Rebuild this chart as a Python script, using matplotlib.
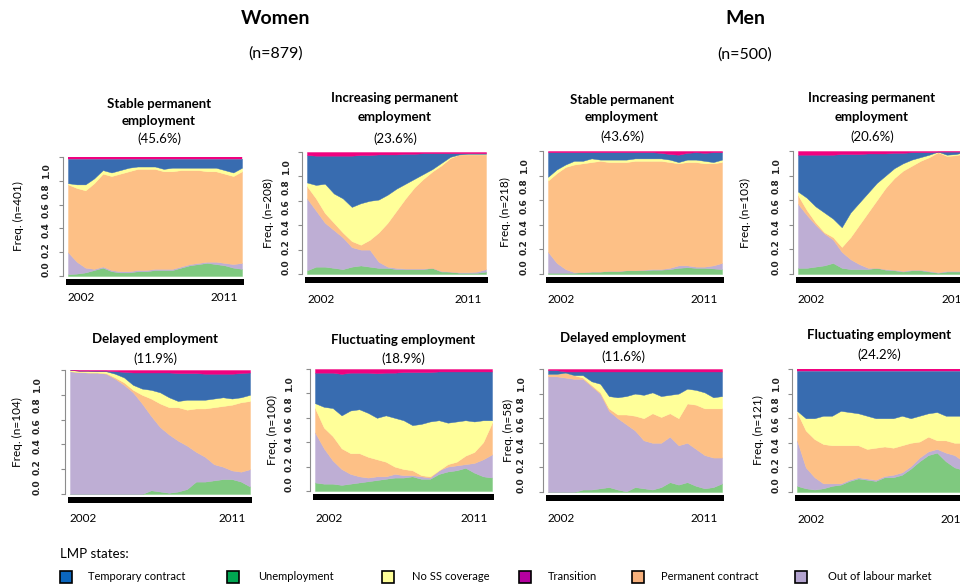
import matplotlib
matplotlib.use("Agg")
import matplotlib.pyplot as plt
from matplotlib.patches import Rectangle
import numpy as np

plt.rcParams["font.family"] = ["Lato", "DejaVu Sans"]

FIG_W, FIG_H = 960, 585

# stacking order, bottom -> top (R "Accent" palette used by seqdplot)
STATE_COLORS = ["#7FC97F", "#BEAED4", "#FDC086", "#FFFF99", "#386CB0", "#F0027F"]
GRAY = "#8C8C8C"

# reading points every half year, 2002.0 .. 2012.0
years = np.arange(2002.0, 2012.01, 0.5)

# ---------------------------------------------------------------------------
# Shares of sequences in each state (%)
# ---------------------------------------------------------------------------
# Women - stable permanent employment
w_stab_unemp = [1.5, 2, 3, 5, 7, 4, 3, 3, 4, 4, 5, 5, 5, 7, 9, 10, 11, 10, 9, 7, 6]
w_stab_out = [18.5, 10, 4, 1, 1, 1, 1, 1, 1, 1, 1, 1, 1, 1, 1, 1, 1, 2, 2, 3, 5]
w_stab_perm = [57, 62, 65, 72, 78, 79, 82, 84, 85, 85, 84, 82, 82, 81, 79, 78, 76, 76, 75, 74, 77]
w_stab_noss = [1, 3, 5, 4, 3, 3, 3, 3, 2, 2, 2, 2, 3, 2, 2, 2, 3, 3, 3, 3, 3]
w_stab_temp = [20.5, 21.5, 21.5, 16.5, 9.5, 11.5, 9.5, 7.5, 6.5, 6.5, 6.5, 8.5, 7.5, 7.5, 7.5, 7.5, 7.5, 7.5, 9.5, 11.5, 7.5]
w_stab_trans = [1.5, 1.5, 1.5, 1.5, 1.5, 1.5, 1.5, 1.5, 1.5, 1.5, 1.5, 1.5, 1.5, 1.5, 1.5, 1.5, 1.5, 1.5, 1.5, 1.5, 1.5]

# Women - increasing permanent employment
w_incr_unemp = [3, 6, 6, 5, 4, 6, 7, 6, 5, 5, 4, 4, 4, 4, 5, 2, 2, 1, 1, 1, 2]
w_incr_out = [59, 46, 36, 31, 26, 16, 13, 14, 5, 1, 1, 0.5, 0.5, 0.5, 0, 0.5, 0, 0.5, 0.5, 1, 2]
w_incr_perm = [10, 10, 8, 6, 4, 5, 4, 8, 24, 36, 47, 57.5, 66.5, 73.5, 79, 86.5, 93, 96.5, 96.5, 96, 94]
w_incr_noss = [3, 11, 24, 24, 28, 28, 34, 32, 27, 23, 18, 12, 7, 4, 2, 2, 1, 0, 0.5, 0.5, 0.5]
w_incr_temp = [22.5, 24, 23, 31, 35, 42, 39.5, 37.5, 37, 33, 28, 24.5, 20.5, 17, 13, 8, 3, 1, 0.5, 0.5, 0.5]
w_incr_trans = [2.5, 3, 3, 3, 3, 3, 2.5, 2.5, 2, 2, 2, 1.5, 1.5, 1, 1, 1, 1, 1, 1, 1, 1]

# Men - stable permanent employment
m_stab_unemp = [1, 1, 1, 1, 1.5, 2, 2, 2.5, 2.5, 3, 3, 3, 3.5, 3.5, 4, 5, 5.5, 5, 5, 4.5, 4]
m_stab_out = [17, 8, 3, 0.5, 0, 0, 0, 0, 0, 0, 0, 0.5, 0.5, 0.5, 1, 2, 1.5, 1, 1, 2.5, 5]
m_stab_perm = [58, 73, 83, 87.5, 88.5, 89, 90, 88.5, 88.5, 88, 89, 88.5, 88, 88, 86, 83, 84, 85, 84, 83, 82]
m_stab_noss = [3, 3, 2, 3, 2, 3, 1, 2, 2, 2, 2, 2, 2, 2, 2, 1, 2, 2, 2, 1, 2]
m_stab_temp = [20, 14, 10, 7, 7, 5, 6, 6, 6, 6, 5, 5, 5, 4.5, 4.5, 6, 5.5, 6, 6.5, 8, 6]
m_stab_trans = [1, 1, 1, 1, 1, 1, 1, 1, 1, 1, 1, 1, 1, 1.5, 2.5, 3, 1.5, 1, 1.5, 1, 1]

# Men - increasing permanent employment
m_incr_unemp = [5, 5, 6, 7, 9, 5, 4, 4, 4, 5, 3.5, 3, 2, 3, 3, 2, 1, 2, 2, 2, 2]
m_incr_out = [52, 43, 34, 26, 19, 13, 8, 4, 1, 0, 0.5, 0.5, 0.5, 0.5, 0.5, 0.5, 0.5, 0.5, 0.5, 0.5, 0.5]
m_incr_perm = [7, 4, 2, 1, 2, 4, 18, 32, 45, 55, 66, 74.5, 81.5, 84.5, 88.5, 92.5, 97.5, 93.5, 94, 95.5, 95.5]
m_incr_noss = [3, 10, 13, 16, 15, 16, 20, 18, 16, 14, 10, 8, 6, 5, 3, 2, 0.5, 1, 1, 1, 1]
m_incr_temp = [30, 35, 42, 47, 52, 59.5, 47.5, 39.5, 32, 24, 18, 12.5, 8.5, 6, 4, 2, 0, 2.5, 2, 0.5, 0.5]
m_incr_trans = [3, 3, 3, 3, 3, 2.5, 2.5, 2.5, 2, 2, 2, 1.5, 1.5, 1, 1, 1, 0.5, 0.5, 0.5, 0.5, 0.5]

# Women - delayed employment
w_dely_unemp = [0, 0, 0, 0, 0, 0, 0, 0, 0, 3, 2, 1, 2, 4, 10, 10, 11, 12, 12, 10, 6]
w_dely_out = [99, 98.5, 98, 98, 97, 93, 88, 82, 73, 60, 52, 47, 41, 35, 24, 20, 13, 10, 7, 8, 14]
w_dely_perm = [0, 0, 0, 0, 0.5, 1, 2, 2, 7, 14, 19, 22, 27, 29, 35, 39, 46, 49, 53, 56, 55]
w_dely_noss = [1, 1, 1.5, 1, 1.5, 3, 4, 4, 5, 7, 9, 8, 5, 8, 7, 7, 7, 7, 5, 4, 5]
w_dely_temp = [0, 0, 0, 0.5, 0.5, 2, 4.5, 10, 13, 14, 16, 20, 22.5, 21.5, 21.5, 21, 20, 19, 20, 19.5, 18]
w_dely_trans = [0, 0.5, 0.5, 0.5, 0.5, 1, 1.5, 2, 2, 2, 2, 2, 2.5, 2.5, 2.5, 3, 3, 3, 3, 2.5, 2]

# Women - fluctuating employment
w_fluc_unemp = [7, 6, 6, 5, 6, 7, 8, 9, 10, 11, 11, 12, 10, 10, 14, 16, 17, 19, 15, 12, 11]
w_fluc_out = [41, 29, 19, 13, 8, 5, 3, 3, 2, 3, 2, 1, 2, 1, 3, 4, 4, 3, 8, 14, 19]
w_fluc_perm = [20, 17, 20, 17, 17, 19, 17, 14, 12, 6, 5, 4, 1, 1, 0, 2, 3, 7, 9, 14, 26]
w_fluc_noss = [4, 17, 23, 27, 35, 36, 36, 34, 38, 40, 40, 37, 42, 45, 41, 34, 33, 29, 25, 18, 2]
w_fluc_temp = [25, 28, 29, 34, 31, 30, 33, 36.5, 35, 37, 39.5, 43.5, 42.5, 40.5, 40, 42, 41, 40, 41, 40, 40]
w_fluc_trans = [3, 3, 3, 4, 3, 3, 3, 3.5, 3, 3, 2.5, 2.5, 2.5, 2.5, 2, 2, 2, 2, 2, 2, 2]

# Men - delayed employment
m_dely_unemp = [0, 0, 0, 0, 2, 2, 3, 4, 2, 0.5, 4, 3, 2, 4, 8, 6, 8, 5, 3, 4, 7]
m_dely_out = [94, 94, 93, 92, 90, 84, 77, 62, 58, 54.5, 46, 39, 38, 36, 37, 32, 32, 30, 27, 24, 21]
m_dely_perm = [2, 2, 4, 3, 1, 1, 1, 2, 3, 8, 12, 18, 24, 21, 19, 22, 32, 36, 38, 40, 40]
m_dely_noss = [0, 0, 0, 0, 2, 3, 7, 10, 14, 15, 18, 19, 17, 17, 15, 20, 12, 12, 13, 9, 10]
m_dely_temp = [3, 3, 1, 3, 3, 8, 10, 20, 21, 20, 18, 19, 17, 20, 19, 18, 14, 15, 17, 21, 20]
m_dely_trans = [1, 1, 2, 2, 2, 2, 2, 2, 2, 2, 2, 2, 2, 2, 2, 2, 2, 2, 2, 2, 2]

# Men - fluctuating employment
m_fluc_unemp = [5, 3, 2, 3, 5, 6, 9, 11, 10, 9, 12, 12, 14, 19, 25, 30, 32, 25, 20, 18, 15]
m_fluc_out = [37, 17, 10, 4, 2, 1, 1, 1, 1, 1, 1, 2, 2, 2, 3, 3, 3, 7, 10, 7, 7]
m_fluc_perm = [23, 30, 31, 32, 31, 31, 28, 26, 24, 26, 24, 22, 22, 19, 13, 12, 7, 10, 10, 15, 18]
m_fluc_noss = [1, 10, 17, 23, 24, 28, 27, 26, 27, 24, 23, 24, 24, 20, 21, 19, 23, 20, 22, 22, 22]
m_fluc_temp = [32.5, 38.5, 38.5, 36.5, 36.5, 32.5, 33.5, 34.5, 36.5, 38.5, 38.5, 38.5, 36.5, 38.5, 36.5, 34.5, 33.5, 36.5, 36.5, 36.5, 36.5]
m_fluc_trans = [1.5, 1.5, 1.5, 1.5, 1.5, 1.5, 1.5, 1.5, 1.5, 1.5, 1.5, 1.5, 1.5, 1.5, 1.5, 1.5, 1.5, 1.5, 1.5, 1.5, 1.5]

# cluster sizes and shares
cluster_n = [401, 208, 218, 103, 104, 100, 58, 121]
cluster_pct = ["45.6", "23.6", "43.6", "20.6", "11.9", "18.9", "11.6", "24.2"]
cluster_titles = [
    ["Stable permanent", "employment"],
    ["Increasing permanent", "employment"],
    ["Stable permanent", "employment"],
    ["Increasing permanent", "employment"],
    ["Delayed employment"],
    ["Fluctuating employment"],
    ["Delayed employment"],
    ["Fluctuating employment"],
]

legend_labels = ["Temporary contract", "Unemployment", "No SS coverage",
                 "Transition", "Permanent contract", "Out of labour market"]
legend_colors = ["#0B66BE", "#00A651", "#FFFF99", "#B5009F", "#F6B07C", "#B3A3CF"]

freq_labels = ["0.0", "0.2", "0.4", "0.6", "0.8", "1.0"]

# ---------------------------------------------------------------------------
# Layout (pixels): plot box, title centre, title line rows, % row,
# y-label x, tick-label distance from plot, year-label distance below plot
# ---------------------------------------------------------------------------
boxes = [(68, 242, 157, 276), (307, 486, 152, 274), (548, 722, 151, 274), (798, 973, 151, 274),
         (70, 250, 370, 494), (315, 492, 369, 491), (548, 722, 369, 492), (797, 972, 369, 492)]
title_x = [159, 395, 622, 872, 155, 403, 623, 879]
title_rows = [[104, 121], [98, 117], [100, 117], [98, 117], [339], [340], [338], [335]]
pct_rows = [139, 139, 137, 137, 359, 359, 357, 355]
ylab_x = [18, 268, 505, 745, 17, 272, 508, 758]
tick_dist = [21, 20, 23, 21, 32, 25, 26, 20]
year_dist = [22, 26, 26, 26, 25, 28, 27, 28]
label_pos = [0.055, 0.22, 0.385, 0.55, 0.715, 0.88]

panel_shares = [
    [w_stab_unemp, w_stab_out, w_stab_perm, w_stab_noss, w_stab_temp, w_stab_trans],
    [w_incr_unemp, w_incr_out, w_incr_perm, w_incr_noss, w_incr_temp, w_incr_trans],
    [m_stab_unemp, m_stab_out, m_stab_perm, m_stab_noss, m_stab_temp, m_stab_trans],
    [m_incr_unemp, m_incr_out, m_incr_perm, m_incr_noss, m_incr_temp, m_incr_trans],
    [w_dely_unemp, w_dely_out, w_dely_perm, w_dely_noss, w_dely_temp, w_dely_trans],
    [w_fluc_unemp, w_fluc_out, w_fluc_perm, w_fluc_noss, w_fluc_temp, w_fluc_trans],
    [m_dely_unemp, m_dely_out, m_dely_perm, m_dely_noss, m_dely_temp, m_dely_trans],
    [m_fluc_unemp, m_fluc_out, m_fluc_perm, m_fluc_noss, m_fluc_temp, m_fluc_trans],
]


def fx(x):
    return x / FIG_W


def fy(y):
    return 1 - y / FIG_H


PT = 0.72  # points per pixel at dpi 100

fig = plt.figure(figsize=(FIG_W / 100, FIG_H / 100), dpi=100)
fig.patch.set_facecolor("white")

for i, shares in enumerate(panel_shares):
    l, r, t, b = boxes[i]
    h = b - t
    ax = fig.add_axes([fx(l), fy(b), (r - l) / FIG_W, h / FIG_H])

    vals = np.array(shares, dtype=float)
    vals = vals / vals.sum(axis=0)
    polys = ax.stackplot(years, vals, colors=STATE_COLORS)
    for p, c in zip(polys, STATE_COLORS):
        p.set_edgecolor(c)
        p.set_linewidth(0.3)

    ax.set_xlim(2002, 2012)
    ax.set_ylim(0, 1)
    for s in ["top", "right", "bottom"]:
        ax.spines[s].set_visible(False)
    ax.spines["left"].set_position(("outward", 5 * PT))
    ax.spines["left"].set_color(GRAY)
    ax.spines["left"].set_linewidth(0.8)

    # tick marks at 0..1, labels drawn (as in the original) slightly shifted
    ax.set_yticks([0, 0.2, 0.4, 0.6, 0.8, 1.0], labels=[""] * 6)
    ax.tick_params(axis="y", which="major", length=3, width=0.8, color=GRAY)
    ax.set_yticks(label_pos, labels=freq_labels, minor=True)
    ax.tick_params(axis="y", which="minor", length=0,
                   pad=(tick_dist[i] - 9) * PT, labelsize=6.5, labelrotation=90)
    for lab in ax.get_yticklabels(minor=True):
        lab.set_fontweight("bold")
        lab.set_fontfamily("DejaVu Sans")
        lab.set_va("center")
        lab.set_color("#222222")

    ax.set_xticks([2002, 2011], labels=["2002", "2011"])
    ax.tick_params(axis="x", length=0, pad=(year_dist[i] - 6) * PT, labelsize=8.5)
    ax.get_xticklabels()[0].set_ha("left")

    # thick black time bar under the plot
    ax.add_patch(Rectangle((-0.01, -9 / h), 1.02, 6 / h, transform=ax.transAxes,
                           facecolor="black", edgecolor="none", clip_on=False))

    for line, yy in zip(cluster_titles[i], title_rows[i]):
        fig.text(fx(title_x[i]), fy(yy), line, ha="center", va="center",
                 fontsize=9.5, fontweight="bold")
    fig.text(fx(title_x[i]), fy(pct_rows[i]), f"({cluster_pct[i]}%)",
             ha="center", va="center", fontsize=9.5)
    fig.text(fx(ylab_x[i]), fy((t + b) / 2), f"Freq. (n={cluster_n[i]})",
             rotation=90, ha="center", va="center", fontsize=8.5)

# column headers
fig.text(fx(276), fy(19), "Women", ha="center", va="center", fontsize=14, fontweight="bold")
fig.text(fx(276), fy(54), "(n=879)", ha="center", va="center", fontsize=11.5)
fig.text(fx(745), fy(19), "Men", ha="center", va="center", fontsize=14, fontweight="bold")
fig.text(fx(745), fy(55), "(n=500)", ha="center", va="center", fontsize=11.5)

# legend
fig.text(fx(60), fy(554), "LMP states:", ha="left", va="center", fontsize=9.5)
square_x = [60, 227, 382, 519, 632, 795]
text_x = [88, 258, 412, 548, 661, 828]
for sx, tx, lab, col in zip(square_x, text_x, legend_labels, legend_colors):
    fig.add_artist(Rectangle((fx(sx), fy(583)), 12 / FIG_W, 12 / FIG_H,
                             transform=fig.transFigure, facecolor=col,
                             edgecolor="black", linewidth=1.2))
    fig.text(fx(tx), fy(577), lab, ha="left", va="center", fontsize=8)

fig.savefig("out.png", dpi=100)
